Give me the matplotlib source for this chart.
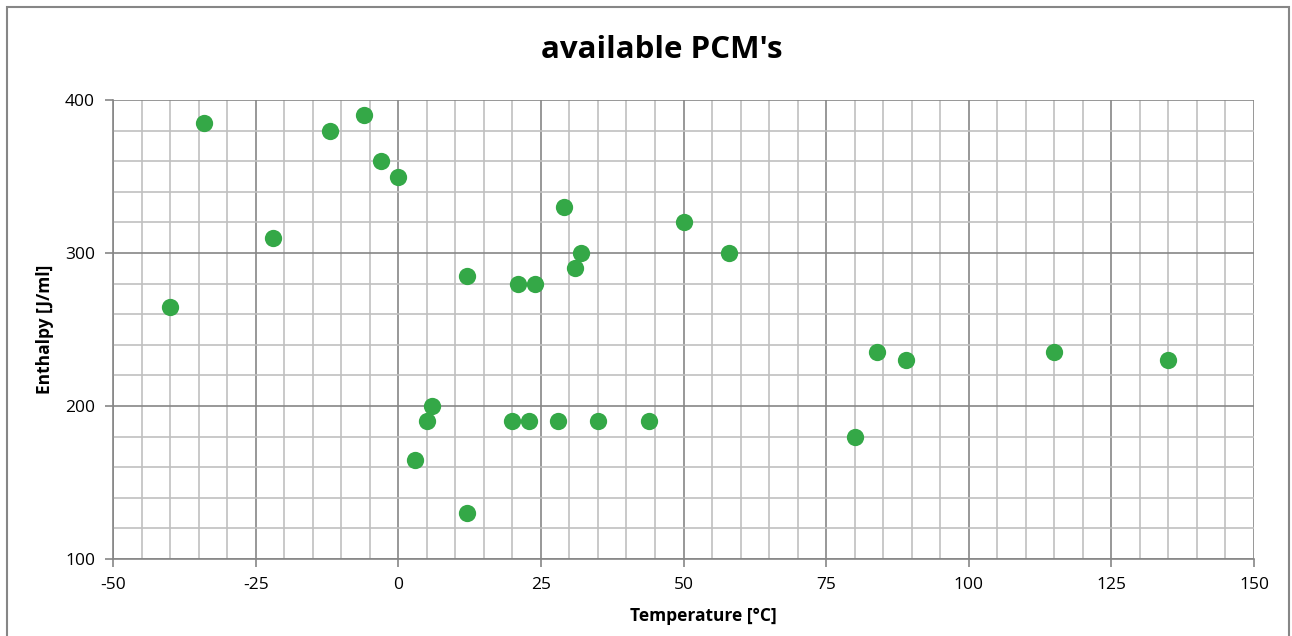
import matplotlib
matplotlib.use("Agg")
import matplotlib.pyplot as plt
from matplotlib.patches import Rectangle
from matplotlib.ticker import MultipleLocator

# melting temperature [°C] and enthalpy [J/ml] of the PCMs
temps = [-40, -34, -22, -12, -6, -3, 0, 3, 5, 6, 12, 12, 20, 21, 23, 24, 28,
         29, 31, 32, 35, 44, 50, 58, 80, 84, 89, 115, 135]
enthalpy = [265, 385, 310, 380, 390, 360, 350, 165, 190, 200, 285, 130, 190,
            280, 190, 280, 190, 330, 290, 300, 190, 190, 320, 300, 180, 235,
            230, 235, 230]

plt.rcParams['font.family'] = ['Open Sans', 'DejaVu Sans']
plt.rcParams['axes.unicode_minus'] = False

fig = plt.figure(figsize=(12.92, 6.36), dpi=100)
ax = fig.add_axes([113/1292, 1 - 559/636, 1141/1292, 459/636])

ax.scatter(temps, enthalpy, s=155, color='#34A847', zorder=3, linewidths=0)

ax.set_xlim(-50, 150)
ax.set_ylim(100, 400)
ax.xaxis.set_major_locator(MultipleLocator(25))
ax.xaxis.set_minor_locator(MultipleLocator(5))
ax.yaxis.set_major_locator(MultipleLocator(100))
ax.yaxis.set_minor_locator(MultipleLocator(20))

ax.grid(which='minor', color='#c0c0c0', linewidth=1.2)
ax.grid(which='major', color='#868686', linewidth=1.2)
ax.set_axisbelow(True)

for s in ['top', 'right']:
    ax.spines[s].set_visible(False)
for s in ['left', 'bottom']:
    ax.spines[s].set_color('#868686')
    ax.spines[s].set_linewidth(1.2)

ax.tick_params(which='major', length=6, width=1.2, color='#868686',
               labelsize=12.5, pad=7)
ax.tick_params(which='minor', length=0)

ax.set_xlabel('Temperature [°C]', fontsize=12.5, fontweight='bold')
ax.xaxis.set_label_coords(0.517, -0.105)
ax.set_ylabel('Enthalpy [J/ml]', fontsize=12.5, fontweight='bold')
ax.yaxis.set_label_coords(-0.052, 0.5)

fig.text(662/1292, 1 - 50/636, "available PCM's", ha='center', va='center',
         fontsize=22.5, fontweight='bold')

# chart border
fig.patches.append(Rectangle((7/1292, -0.02), 1282/1292, 1.02 - 7/636,
                             transform=fig.transFigure, fill=False,
                             edgecolor='#868686', linewidth=1.5))

fig.savefig("out.png", dpi=100)
